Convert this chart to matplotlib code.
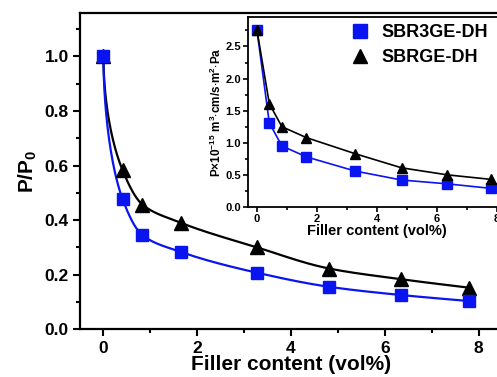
import numpy as np
import matplotlib
matplotlib.use('Agg')
import matplotlib.pyplot as plt
from matplotlib.ticker import MultipleLocator

plt.rcParams['font.family'] = ['Liberation Sans', 'DejaVu Sans']
plt.rcParams['font.weight'] = 'bold'
plt.rcParams['mathtext.fontset'] = 'custom'
plt.rcParams['mathtext.rm'] = 'Liberation Sans:bold'
plt.rcParams['mathtext.it'] = 'Liberation Sans:bold'
plt.rcParams['mathtext.bf'] = 'Liberation Sans:bold'

# filler content (vol%)
filler = [0, 0.41, 0.83, 1.65, 3.27, 4.82, 6.35, 7.8]

# relative permeability P/P0
ratio_3ge = [1.0, 0.476, 0.345, 0.283, 0.207, 0.155, 0.125, 0.103]
ratio_ge = [1.0, 0.582, 0.457, 0.39, 0.30, 0.222, 0.183, 0.152]

# permeability (x1e-15 m3 cm / s m2 Pa)
perm_3ge = [2.75, 1.31, 0.95, 0.78, 0.56, 0.42, 0.36, 0.29]
perm_ge = [2.75, 1.61, 1.25, 1.08, 0.83, 0.61, 0.50, 0.43]

labels = ['SBR3GE-DH', 'SBRGE-DH']
colors = ['#0a14f0', 'black']
markers = ['s', '^']


def smooth_line(x, y, n=40):
    # monotone cubic (pchip) through the points, in sqrt(x) space
    u = np.sqrt(np.array(x, float))
    y = np.array(y, float)
    h = np.diff(u)
    d = np.diff(y) / h
    m = np.zeros_like(y)
    for i in range(1, len(y) - 1):
        if d[i - 1] * d[i] > 0:
            w1 = 2 * h[i] + h[i - 1]
            w2 = h[i] + 2 * h[i - 1]
            m[i] = (w1 + w2) / (w1 / d[i - 1] + w2 / d[i])
    m[0] = d[0]
    m[-1] = d[-1]
    uu, yy = [], []
    for i in range(len(h)):
        t = np.linspace(0, 1, n)
        h00 = 2 * t**3 - 3 * t**2 + 1
        h10 = t**3 - 2 * t**2 + t
        h01 = -2 * t**3 + 3 * t**2
        h11 = t**3 - t**2
        uu.append(u[i] + t * h[i])
        yy.append(h00 * y[i] + h10 * h[i] * m[i] + h01 * y[i + 1] + h11 * h[i] * m[i + 1])
    return np.concatenate(uu) ** 2, np.concatenate(yy)


fig = plt.figure(figsize=(4.97, 3.77), dpi=100)
ax = fig.add_axes([0.161, 0.127, 0.849, 0.839])

for yv, c, m in zip([ratio_ge, ratio_3ge], colors[::-1], markers[::-1]):
    sx, sy = smooth_line(filler, yv)
    ax.plot(sx, sy, color=c, lw=1.6)
    ax.plot(filler, yv, ls='none', marker=m, color=c, ms=10 if m == '^' else 9,
            mec=c, zorder=3)

ax.set_xlim(-0.5, 8.5)
ax.set_ylim(0, 1.16)
ax.xaxis.set_major_locator(MultipleLocator(2))
ax.xaxis.set_minor_locator(MultipleLocator(1))
ax.yaxis.set_major_locator(MultipleLocator(0.2))
ax.yaxis.set_minor_locator(MultipleLocator(0.1))
ax.tick_params(which='both', direction='out', width=1.5, labelsize=12.5)
ax.tick_params(which='major', length=5)
ax.tick_params(which='minor', length=3)
ax.tick_params(axis='y', pad=3)
for s in ax.spines.values():
    s.set_linewidth(1.6)
ax.set_xlabel('Filler content (vol%)', fontsize=15, fontweight='bold', labelpad=-1)
ax.set_ylabel('P/P$_0$', fontsize=15, fontweight='bold', labelpad=4)

# inset
ins = fig.add_axes([0.499, 0.451, 0.519, 0.504])
handles = []
for yv, c, m, lab in zip([perm_3ge, perm_ge], colors, markers, labels):
    ins.plot(filler, yv, color=c, lw=1.2)
    h, = ins.plot(filler, yv, ls='none', marker=m, color=c, ms=7 if m == '^' else 6.5,
                  mec=c, label=lab)
    handles.append(h)
ins.set_xlim(-0.3, 8.3)
ins.set_ylim(0, 2.96)
ins.xaxis.set_major_locator(MultipleLocator(2))
ins.xaxis.set_minor_locator(MultipleLocator(1))
ins.yaxis.set_major_locator(MultipleLocator(0.5))
ins.yaxis.set_minor_locator(MultipleLocator(0.25))
ins.tick_params(which='both', direction='out', width=1.2, labelsize=8, pad=1.5)
ins.tick_params(which='major', length=3.5)
ins.tick_params(which='minor', length=2)
for s in ins.spines.values():
    s.set_linewidth(1.3)
ins.set_xlabel('Filler content (vol%)', fontsize=10.5, fontweight='bold', labelpad=0)
ins.set_ylabel('P$\\times$10$^{-15}$ m$^3$$\\cdot$cm/s$\\cdot$m$^2$$\\cdot$Pa',
               fontsize=8.5, fontweight='bold', labelpad=1)
leg = ins.legend(handles=handles, loc='upper right', frameon=False, fontsize=13,
                 handlelength=1.0, handletextpad=0.7, borderaxespad=0.0,
                 labelspacing=0.45, markerscale=1.5, bbox_to_anchor=(0.96, 1.0))

fig.savefig('out.png', dpi=100)
